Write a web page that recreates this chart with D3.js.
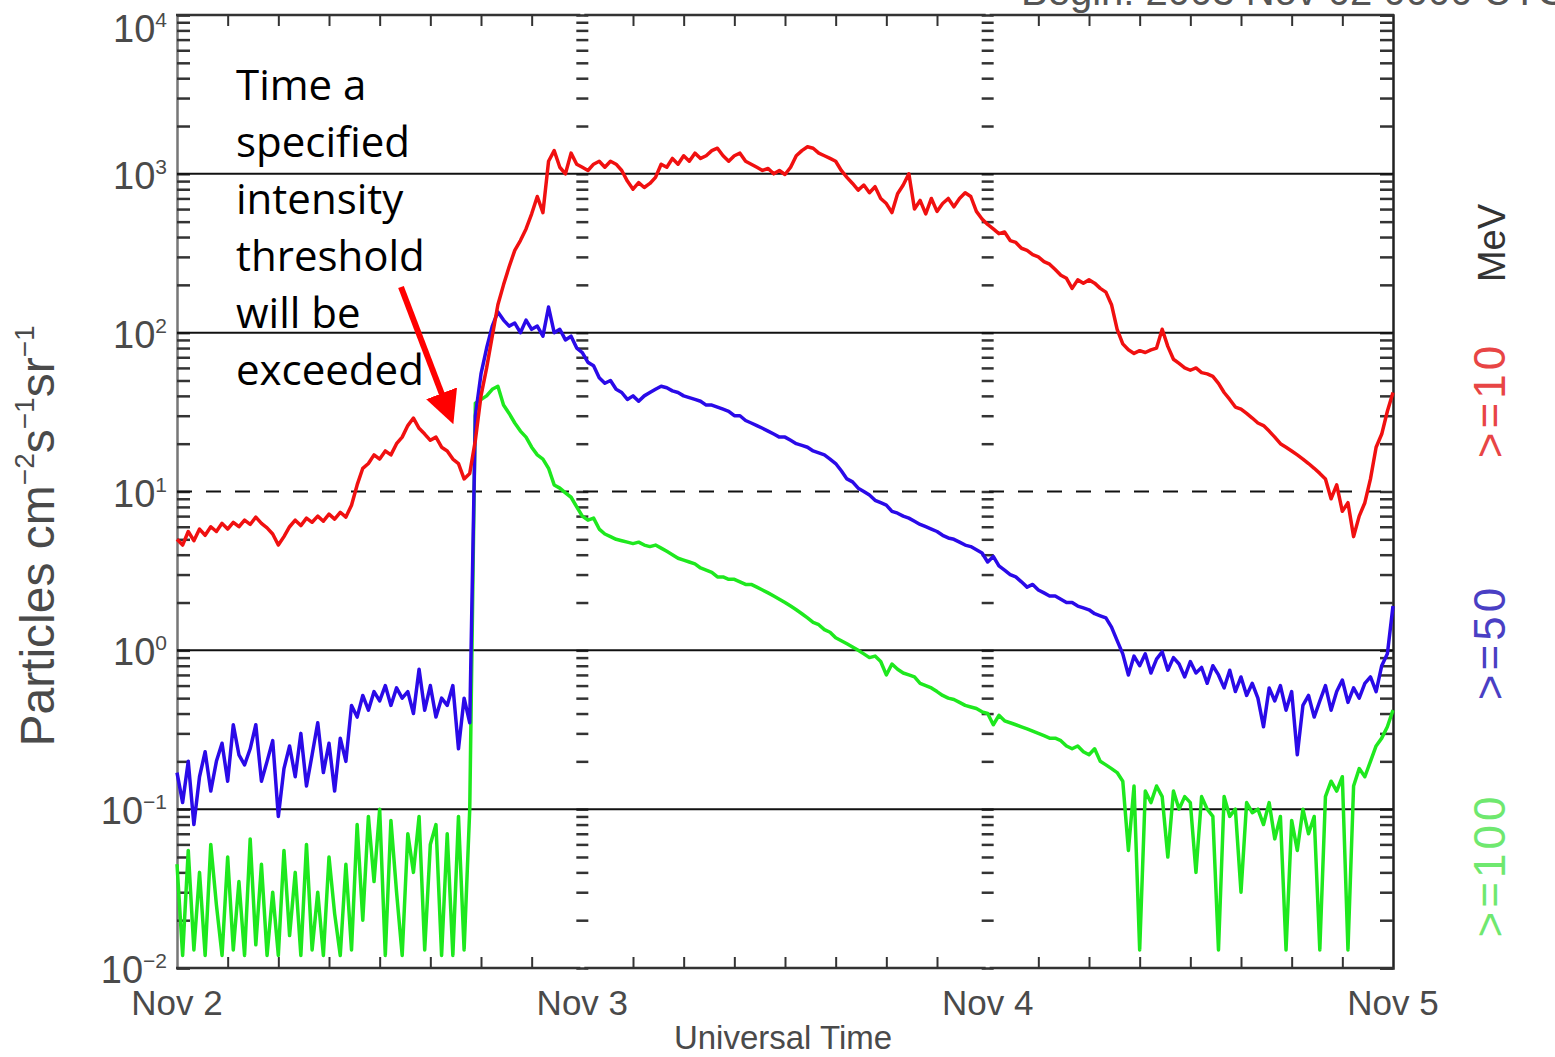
<!DOCTYPE html>
<html>
<head>
<meta charset="utf-8">
<script src="https://cdn.jsdelivr.net/npm/d3@7"></script>
<style>
  body { margin: 0; background: #fff; }
  svg { display: block; }
  text { font-family: "Liberation Sans", Arial, sans-serif; }
</style>
</head>
<body>
<script>
// GOES proton flux, 20-minute samples from 2003 Nov 2 00:00 UT
var p10 = [
  5.0, 4.6, 5.6, 4.9, 5.8, 5.3, 6.0, 5.6, 6.3, 5.8, 6.4, 6.0,
  6.6, 6.2, 6.9, 6.3, 5.9, 5.4, 4.6, 5.2, 6.0, 6.6, 6.1, 6.8,
  6.4, 7.0, 6.5, 7.2, 6.7, 7.4, 6.9, 8.2, 11, 14, 15, 17,
  16, 18, 17, 20, 22, 26, 29, 25, 23, 21, 22, 19,
  18, 16, 15, 12, 13, 21, 40, 60, 95, 150, 200, 260,
  330, 380, 450, 560, 720, 570, 1200, 1400, 1100, 1000, 1350, 1150,
  1100, 1050, 1150, 1200, 1100, 1200, 1150, 1050, 900, 800, 880, 820,
  870, 950, 1150, 1100, 1250, 1150, 1300, 1200, 1350, 1250, 1300, 1400,
  1450, 1300, 1200, 1300, 1350, 1200, 1150, 1100, 1050, 1080, 1000, 1050,
  990, 1100, 1300, 1400, 1480, 1450, 1350, 1300, 1250, 1200, 1050, 950,
  870, 790, 850, 760, 830, 700, 650, 570, 750, 850, 1000, 600,
  680, 560, 700, 580, 650, 700, 620, 700, 760, 720, 580, 520,
  480, 450, 420, 430, 380, 370, 340, 330, 310, 300, 280, 270,
  250, 230, 220, 190, 215, 205, 215, 205, 190, 180, 150, 105,
  85, 78, 74, 77, 75, 78, 80, 105, 82, 68, 64, 60,
  58, 60, 56, 55, 53, 48, 42, 38, 34, 33, 31, 29,
  27, 26, 24, 22, 20, 19, 18, 17, 16, 15, 14, 13,
  12, 9.0, 11, 7.5, 8.5, 5.2, 7.0, 8.5, 12, 19, 23, 32,
  42
];
var p50 = [
  0.17, 0.11, 0.2, 0.08, 0.16, 0.23, 0.13, 0.2, 0.26, 0.15, 0.34, 0.22,
  0.19, 0.24, 0.34, 0.15, 0.2, 0.27, 0.09, 0.18, 0.25, 0.16, 0.3, 0.14,
  0.22, 0.35, 0.17, 0.26, 0.13, 0.28, 0.2, 0.45, 0.38, 0.52, 0.42, 0.55,
  0.48, 0.6, 0.45, 0.58, 0.5, 0.55, 0.4, 0.76, 0.42, 0.6, 0.38, 0.5,
  0.45, 0.6, 0.24, 0.5, 0.35, 30, 55, 80, 110, 135, 120, 110,
  115, 100, 120, 105, 110, 95, 145, 100, 105, 90, 95, 80,
  75, 65, 62, 52, 48, 50, 44, 42, 38, 40, 37, 40,
  42, 44, 46, 45, 43, 42, 40, 39, 38, 37, 35, 35,
  34, 33, 32, 30, 30, 28, 27, 26, 25, 24, 23, 22,
  22, 21, 20, 19.5, 19, 18, 17.5, 17, 16, 15, 13.5, 12,
  11.5, 10.5, 10, 9.5, 8.8, 8.5, 8.2, 7.5, 7.3, 7.0, 6.8, 6.5,
  6.2, 6.0, 5.8, 5.6, 5.3, 5.1, 5.0, 4.8, 4.6, 4.5, 4.3, 4.1,
  3.6, 3.9, 3.4, 3.2, 3.0, 2.9, 2.7, 2.5, 2.6, 2.4, 2.3, 2.2,
  2.2, 2.1, 2.0, 2.0, 1.9, 1.85, 1.8, 1.7, 1.65, 1.6, 1.4, 1.15,
  0.95, 0.7, 0.92, 0.8, 0.95, 0.72, 0.88, 0.98, 0.75, 0.9, 0.82, 0.68,
  0.85, 0.72, 0.78, 0.62, 0.8, 0.7, 0.58, 0.75, 0.55, 0.68, 0.52, 0.62,
  0.5, 0.33, 0.58, 0.48, 0.6, 0.42, 0.55, 0.22, 0.45, 0.52, 0.38, 0.48,
  0.6, 0.42, 0.55, 0.65, 0.47, 0.58, 0.5, 0.62, 0.68, 0.55, 0.8, 0.95,
  1.9
];
var p100 = [
  0.045, 0.012, 0.055, 0.013, 0.04, 0.012, 0.06, 0.025, 0.012, 0.05, 0.013, 0.035,
  0.012, 0.065, 0.014, 0.045, 0.012, 0.03, 0.012, 0.055, 0.016, 0.04, 0.012, 0.06,
  0.013, 0.03, 0.012, 0.05, 0.022, 0.012, 0.045, 0.013, 0.08, 0.02, 0.09, 0.035,
  0.1, 0.012, 0.085, 0.03, 0.012, 0.07, 0.04, 0.09, 0.013, 0.06, 0.08, 0.012,
  0.07, 0.012, 0.09, 0.013, 0.1, 36, 38, 40, 44, 46, 35, 31,
  27, 24, 22, 19, 17, 16, 14, 11, 10.5, 9.8, 9.2, 8.0,
  7.0, 6.6, 6.8, 5.8, 5.4, 5.2, 5.0, 4.9, 4.8, 4.7, 4.8, 4.6,
  4.5, 4.6, 4.4, 4.2, 4.0, 3.8, 3.7, 3.6, 3.5, 3.3, 3.2, 3.1,
  2.9, 2.9, 2.8, 2.8, 2.7, 2.6, 2.6, 2.5, 2.4, 2.3, 2.2, 2.1,
  2.0, 1.9, 1.8, 1.7, 1.6, 1.5, 1.45, 1.35, 1.3, 1.2, 1.15, 1.1,
  1.05, 1.0, 0.95, 0.9, 0.92, 0.85, 0.7, 0.82, 0.76, 0.72, 0.7, 0.68,
  0.62, 0.6, 0.58, 0.55, 0.52, 0.5, 0.49, 0.47, 0.45, 0.44, 0.43, 0.41,
  0.4, 0.34, 0.39, 0.36, 0.35, 0.34, 0.33, 0.32, 0.31, 0.3, 0.29, 0.28,
  0.28, 0.27, 0.25, 0.24, 0.25, 0.23, 0.22, 0.24, 0.2, 0.19, 0.18, 0.17,
  0.15, 0.055, 0.14, 0.013, 0.13, 0.11, 0.14, 0.12, 0.05, 0.13, 0.1, 0.12,
  0.11, 0.04, 0.12, 0.1, 0.09, 0.013, 0.12, 0.09, 0.1, 0.03, 0.11, 0.095,
  0.1, 0.08, 0.11, 0.065, 0.09, 0.013, 0.085, 0.055, 0.1, 0.07, 0.09, 0.013,
  0.12, 0.15, 0.13, 0.16, 0.013, 0.14, 0.18, 0.16, 0.2, 0.25, 0.28, 0.33,
  0.42
];

var yDecades = [-2, -1, 0, 1, 2, 3, 4];
var solidLevels = [1000, 100, 1, 0.1];
var dashedLevels = [10];
var dayLabels = ["Nov 2", "Nov 3", "Nov 4", "Nov 5"];
var channelLabels = [">=10", ">=50", ">=100"];
var noteLines = ["Time a", "specified", "intensity", "threshold", "will be", "exceeded"];

// Layout
var W = 1555, H = 1057;
var margin = {top: 15, right: 162, bottom: 89, left: 177};
var t0 = new Date(Date.UTC(2003, 10, 2));
var t1 = new Date(Date.UTC(2003, 10, 5));
var step = 20 * 60 * 1000;

var svg = d3.select("body").append("svg")
    .attr("width", W)
    .attr("height", H);

var x = d3.scaleUtc().domain([t0, t1]).range([margin.left, W - margin.right]);
var y = d3.scaleLog().domain([0.01, 10000]).range([H - margin.bottom, margin.top]);

function series(vals) {
    return vals.map(function(v, i) { return {t: new Date(t0.getTime() + i * step), v: v}; });
}

// every 1..9 x decade for the minor ticks
var yTicks = [];
yDecades.forEach(function(e) {
    for (var m = 1; m <= 9; m++) {
        if (e === 4 && m > 1) break;
        yTicks.push(m * Math.pow(10, e));
    }
});

var days = d3.utcDay.range(t0, d3.utcDay.offset(t1, 1));   // Nov 2 .. Nov 5
var inner = days.slice(1, -1);

/* FRAME AND TICKS */
var tickColor = "#333";

// left and right y axes, ticks pointing inward
svg.append("g")
    .attr("transform", "translate(" + margin.left + ",0)")
    .call(d3.axisRight(y).tickValues(yTicks).tickSize(13).tickFormat(""))
    .call(function(g) {
        g.select(".domain").attr("stroke", "#777").attr("stroke-width", 2.5);
        g.selectAll(".tick line").attr("stroke", tickColor).attr("stroke-width", 2.5);
    });

svg.append("g")
    .attr("transform", "translate(" + (W - margin.right) + ",0)")
    .call(d3.axisLeft(y).tickValues(yTicks).tickSize(13).tickFormat(""))
    .call(function(g) {
        g.select(".domain").attr("stroke", "#222").attr("stroke-width", 2.5);
        g.selectAll(".tick line").attr("stroke", tickColor).attr("stroke-width", 2.5);
    });

// tick rows centred on the day boundaries
inner.forEach(function(d) {
    svg.append("g")
        .attr("transform", "translate(" + (x(d) + 6) + ",0)")
        .call(d3.axisLeft(y).tickValues(yTicks).tickSize(12).tickFormat(""))
        .call(function(g) {
            g.select(".domain").remove();
            g.selectAll(".tick line").attr("stroke", tickColor).attr("stroke-width", 2.5);
        });
});

// top and bottom time axes: 3-hour ticks
var hourTicks = d3.utcHour.every(3).range(d3.utcHour.offset(t0, 3), t1)
    .filter(function(d) { return d.getUTCHours() !== 0; });

svg.append("g")
    .attr("transform", "translate(0," + (H - margin.bottom) + ")")
    .call(d3.axisTop(x).tickValues(hourTicks).tickSize(11).tickFormat(""))
    .call(function(g) {
        g.select(".domain").remove();
        g.selectAll(".tick line").attr("stroke", tickColor).attr("stroke-width", 2);
    });

svg.append("g")
    .attr("transform", "translate(0," + margin.top + ")")
    .call(d3.axisBottom(x).tickValues(hourTicks).tickSize(11).tickFormat(""))
    .call(function(g) {
        g.select(".domain").remove();
        g.selectAll(".tick line").attr("stroke", tickColor).attr("stroke-width", 2);
    });

// axis lines, broken a little at each day boundary
[H - margin.bottom, margin.top].forEach(function(yy) {
    d3.pairs(days).forEach(function(p, i, arr) {
        svg.append("line")
            .attr("x1", x(p[0]) + (i === 0 ? -1 : 2))
            .attr("x2", x(p[1]) - (i === arr.length - 1 ? -1 : 2))
            .attr("y1", yy).attr("y2", yy)
            .attr("stroke", "#333").attr("stroke-width", 2.5);
    });
});

// reference levels
svg.selectAll(".level")
    .data(solidLevels.concat(dashedLevels))
    .enter().append("line")
    .attr("x1", x(t0)).attr("x2", x(t1))
    .attr("y1", function(d) { return y(d); })
    .attr("y2", function(d) { return y(d); })
    .attr("stroke", "#111")
    .attr("stroke-width", 2)
    .attr("stroke-dasharray", function(d) { return dashedLevels.indexOf(d) >= 0 ? "15,14" : null; });

/* LABELS */
var labelColor = "#4a4a4a";

var yLab = svg.selectAll(".ylab")
    .data(yDecades)
    .enter().append("text")
    .attr("x", margin.left - 10)
    .attr("y", function(e) { return Math.max(y(Math.pow(10, e)) + 15, 42); })
    .attr("text-anchor", "end")
    .attr("fill", labelColor)
    .style("font-size", "38px");
yLab.append("tspan").text("10");
yLab.append("tspan")
    .attr("dy", -15)
    .style("font-size", "21px")
    .text(function(e) { return e < 0 ? "\u2212" + (-e) : e; });

svg.selectAll(".xlab")
    .data(days)
    .enter().append("text")
    .attr("x", function(d) { return x(d); })
    .attr("y", 1015)
    .attr("text-anchor", "middle")
    .attr("fill", labelColor)
    .style("font-size", "35px")
    .text(function(d, i) { return dayLabels[i]; });

svg.append("text")
    .attr("x", 783).attr("y", 1049)
    .attr("text-anchor", "middle")
    .attr("fill", labelColor)
    .style("font-size", "33px")
    .text("Universal Time");

// y title, rotated
var yt = svg.append("text")
    .attr("transform", "translate(54,536) rotate(-90)")
    .attr("text-anchor", "middle")
    .attr("fill", labelColor)
    .style("font-size", "48px");
[["Particles cm", 0], ["\u22122", 1], ["s", 0], ["\u22121", 1], ["sr", 0], ["\u22121", 1]].forEach(function(p, i, arr) {
    var prevSup = i > 0 && arr[i - 1][1];
    yt.append("tspan")
        .attr("dy", p[1] ? -20 : (prevSup ? 20 : 0))
        .style("font-size", p[1] ? "28px" : "48px")
        .text(p[0]);
});

// channel legend, rotated
var legendColors = ["#e84545", "#4a3fc4", "#6fe86f"];
var legendY = [400, 642, 865];
svg.append("text")
    .attr("transform", "translate(1505,243) rotate(-90)")
    .attr("text-anchor", "middle")
    .attr("fill", "#333")
    .style("font-size", "38px")
    .text("MeV");
channelLabels.forEach(function(c, i) {
    svg.append("text")
        .attr("transform", "translate(1505," + legendY[i] + ") rotate(-90)")
        .attr("text-anchor", "middle")
        .attr("fill", legendColors[i])
        .style("font-size", "44px")
        .style("letter-spacing", "4px")
        .text(c);
});

// header text, clipped by the top edge as in the original
svg.append("text")
    .attr("x", 1021).attr("y", 5)
    .attr("fill", "#555")
    .style("font-size", "40px")
    .text("Begin: 2003 Nov 02 0000 UTC");

/* DATA LINES */
var line = d3.line()
    .x(function(d) { return x(d.t); })
    .y(function(d) { return y(d.v); });

[[p100, "#1ee81e"], [p50, "#2a0ae8"], [p10, "#f01010"]].forEach(function(s) {
    svg.append("path")
        .datum(series(s[0]))
        .attr("fill", "none")
        .attr("stroke", s[1])
        .attr("stroke-width", 3.5)
        .attr("stroke-linejoin", "round")
        .attr("d", line);
});

/* ANNOTATION */
svg.selectAll(".note")
    .data(noteLines)
    .enter().append("text")
    .attr("x", 236)
    .attr("y", function(d, i) { return 100 + i * 57; })
    .attr("fill", "#000")
    .style("font-family", "'Open Sans', 'Noto Sans', sans-serif")
    .style("font-size", "42px")
    .text(function(d) { return d; });

svg.append("defs").append("marker")
    .attr("id", "head")
    .attr("viewBox", "0 0 10 10")
    .attr("refX", 8).attr("refY", 5)
    .attr("markerWidth", 5.5).attr("markerHeight", 5.5)
    .attr("markerUnits", "strokeWidth")
    .attr("orient", "auto")
    .append("path")
    .attr("d", "M0,0 L10,5 L0,10 Z")
    .attr("fill", "#f00");

svg.append("line")
    .attr("x1", 401).attr("y1", 287)
    .attr("x2", 451).attr("y2", 418)
    .attr("stroke", "#f00")
    .attr("stroke-width", 6)
    .attr("marker-end", "url(#head)");
</script>
</body>
</html>
